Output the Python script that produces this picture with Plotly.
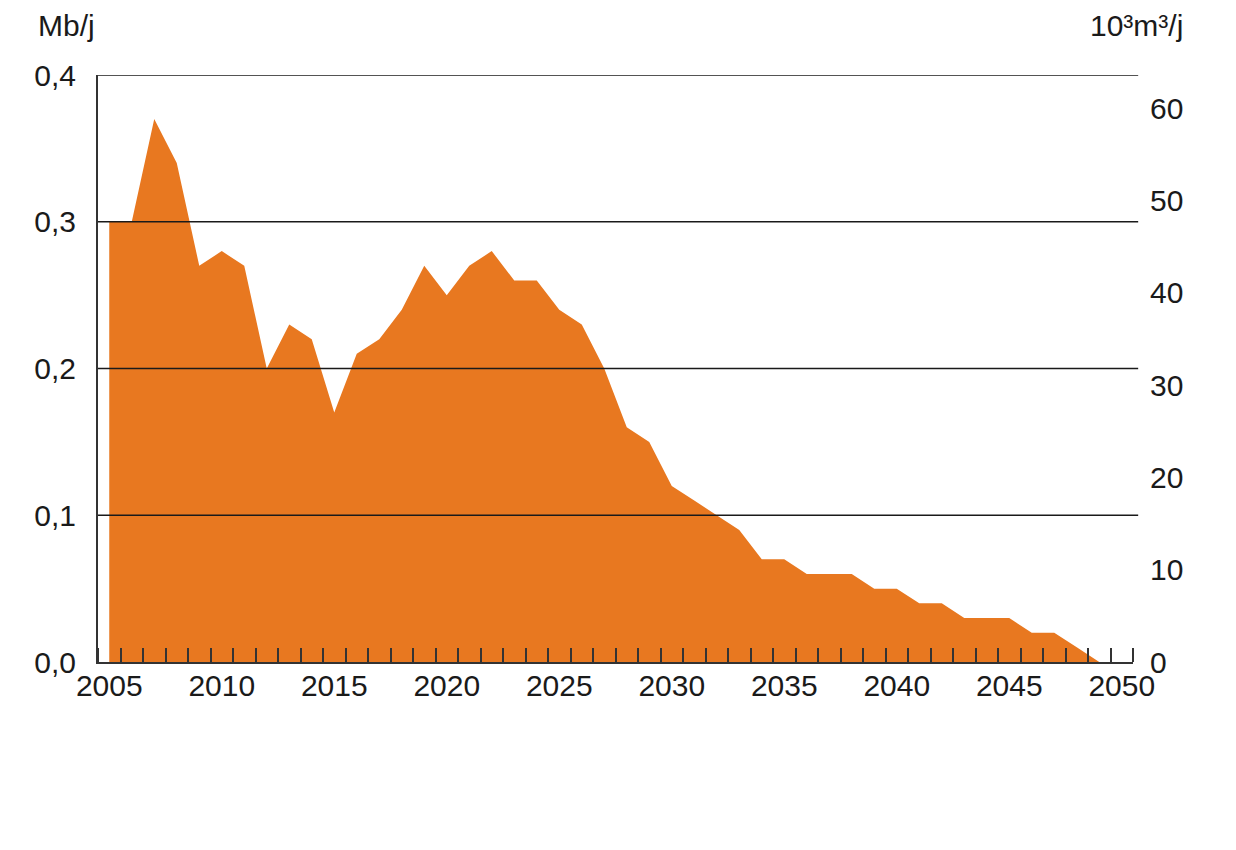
import plotly.graph_objects as go

years = list(range(2005, 2051))
production_mbj = [0.30, 0.30, 0.37, 0.34, 0.27, 0.28, 0.27, 0.20, 0.23, 0.22,
                  0.17, 0.21, 0.22, 0.24, 0.27, 0.25, 0.27, 0.28, 0.26, 0.26,
                  0.24, 0.23, 0.20, 0.16, 0.15, 0.12, 0.11, 0.10, 0.09, 0.07,
                  0.07, 0.06, 0.06, 0.06, 0.05, 0.05, 0.04, 0.04, 0.03, 0.03,
                  0.03, 0.02, 0.02, 0.01, 0.00, 0.00]
left_ticks = [0.0, 0.1, 0.2, 0.3, 0.4]
left_labels = ["0,0", "0,1", "0,2", "0,3", "0,4"]
right_ticks = [0, 10, 20, 30, 40, 50, 60]
year_labels = [2005, 2010, 2015, 2020, 2025, 2030, 2035, 2040, 2045, 2050]
M3_PER_BARREL = 159  # 10^3 m3/j per Mb/j

FONT = "Liberation Sans, Arial, Helvetica, sans-serif"
ORANGE = "#E87820"
FS = 30

fig = go.Figure()
fig.add_trace(go.Scatter(
    x=years, y=production_mbj, mode="lines", fill="tozeroy",
    fillcolor=ORANGE, line=dict(width=0, color=ORANGE),
    hoverinfo="x+y", showlegend=False,
))
# invisible trace to activate the right axis
fig.add_trace(go.Scatter(x=[years[0]], y=[0], yaxis="y2", mode="markers",
                         marker=dict(opacity=0), showlegend=False, hoverinfo="skip"))

ymax = left_ticks[-1]
fig.update_layout(
    width=1236, height=850,
    margin=dict(l=90, r=111, t=67, b=196),
    paper_bgcolor="white", plot_bgcolor="white",
    font=dict(family=FONT, size=FS, color="#1a1a1a"),
    xaxis=dict(
        range=[years[0] - 0.5, years[-1] + 0.5],
        tickvals=year_labels, ticktext=[str(v) for v in year_labels],
        ticks="", showgrid=False, zeroline=False,
        showline=True, linecolor="#333333", linewidth=2,
        tickfont=dict(size=FS), ticklabelstandoff=-4,
        minor=dict(tick0=years[0] + 0.5, dtick=1, ticks="inside", ticklen=14,
                   tickcolor="#333333", tickwidth=1.5, showgrid=False),
    ),
    yaxis=dict(
        range=[0, ymax], tickvals=left_ticks, ticktext=left_labels,
        showgrid=False, zeroline=False, ticks="",
        showline=True, linecolor="#333333", linewidth=2,
        ticklabelstandoff=14, tickfont=dict(size=FS),
    ),
    yaxis2=dict(
        range=[0, ymax * M3_PER_BARREL], tickvals=right_ticks,
        ticktext=[str(v) for v in right_ticks],
        overlaying="y", side="right", showgrid=False, zeroline=False,
        showline=False, ticks="", ticklabelstandoff=16, tickfont=dict(size=FS),
    ),
)

# horizontal gridlines extending slightly past the plot edge
for t in left_ticks[1:]:
    fig.add_shape(type="line", xref="paper", yref="y", x0=0, x1=1.005, y0=t, y1=t,
                  line=dict(color="#1a1a1a", width=1.3), layer="above")

fig.add_annotation(text="Mb/j", xref="paper", yref="paper", x=0, xshift=-60, y=1.0,
                   yshift=50, xanchor="left", yanchor="middle", showarrow=False,
                   borderpad=0, borderwidth=0, font=dict(size=FS))
fig.add_annotation(text="10³m³/j", xref="paper", yref="paper",
                   x=1.0, xshift=50, y=1.0, yshift=50, xanchor="right",
                   yanchor="middle", showarrow=False, borderpad=0, borderwidth=0,
                   font=dict(size=FS))

fig.write_html("out.html")
